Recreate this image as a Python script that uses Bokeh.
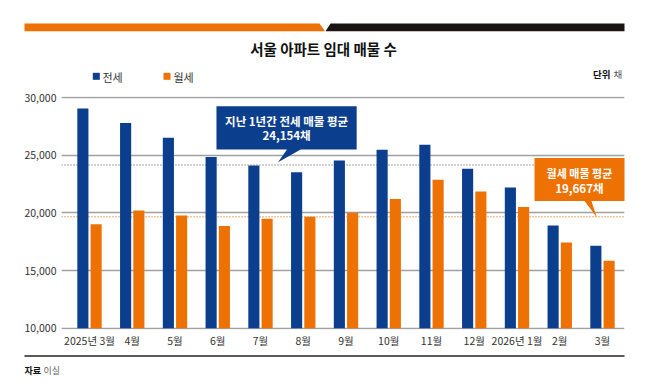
from bokeh.plotting import figure
from bokeh.models import Range1d, FixedTicker, NumeralTickFormatter, Span
from bokeh.core.properties import value
from bokeh.embed import file_html
from bokeh.resources import INLINE

# ---- data ----
months = ["2025년 3월", "4월", "5월", "6월", "7월", "8월", "9월", "10월", "11월",
          "12월", "2026년 1월", "2월", "3월"]
jeonse = [29050, 27800, 26500, 24850, 24100, 23530, 24540, 25470, 25900,
          23820, 22200, 18900, 17150]
wolse = [19020, 20210, 19770, 18850, 19490, 19660, 20000, 21190, 22860,
         21850, 20500, 17430, 15850]
jeonse_avg = 24154
wolse_avg = 19667
y_ticks = [10000, 15000, 20000, 25000, 30000]
series_names = ["전세", "월세"]

FONT_NAME = "Noto Sans CJK KR"
FONT = value(FONT_NAME)
BLUE = "#0c3e8e"
ORANGE = "#ee7203"
DARK = "#1c1412"
TXT = "#333333"

n = len(months)
idx = list(range(n))

p = figure(width=649, height=379, x_range=Range1d(-0.655, 12.515),
           y_range=Range1d(9887, 30087), output_backend="svg", toolbar_location=None,
           min_border_left=61, min_border_right=25, min_border_top=96, min_border_bottom=50)
p.outline_line_color = None
p.xgrid.grid_line_color = None
p.ygrid.ticker = FixedTicker(ticks=y_ticks)
p.ygrid.grid_line_color = "#a0a0a0"
p.ygrid.grid_line_width = 1.3

# page-pixel coordinate system for header / footer decorations
p.extra_x_ranges = {"px": Range1d(62, 625)}
p.extra_y_ranges = {"py": Range1d(330, 97)}
PX = dict(x_range_name="px", y_range_name="py", level="overlay")

for ax in (p.xaxis, p.yaxis):
    ax.axis_line_color = None
    ax.major_tick_line_color = None
    ax.minor_tick_line_color = None
    ax.major_tick_out = 0
    ax.major_tick_in = 0
    ax.minor_tick_out = 0
    ax.minor_tick_in = 0
    ax.major_label_text_font = FONT_NAME
    ax.major_label_text_font_size = "10.5px"
    ax.major_label_text_color = TXT

p.yaxis.ticker = FixedTicker(ticks=y_ticks)
p.yaxis.formatter = NumeralTickFormatter(format="0,0")
p.yaxis.major_label_standoff = 5

p.xaxis.ticker = FixedTicker(ticks=idx)
p.xaxis.major_label_overrides = {i: m for i, m in enumerate(months)}
p.xaxis.major_label_standoff = 3

p.add_layout(Span(location=jeonse_avg, dimension="width", line_color="#8a8a8a",
                  line_width=1.4, line_dash="1 2", level="underlay"))
p.add_layout(Span(location=wolse_avg, dimension="width", line_color="#e98a35",
                  line_width=1.4, line_dash="1 2", level="underlay"))

p.vbar(x=[i - 0.155 for i in idx], top=jeonse, bottom=10000, width=0.26,
       fill_color=BLUE, line_color=None)
p.vbar(x=[i + 0.155 for i in idx], top=wolse, bottom=10000, width=0.26,
       fill_color=ORANGE, line_color=None)

# callouts
p.patch(x=[2.97, 6.25, 6.25, 4.94, 4.41, 4.62, 2.97],
        y=[29246, 29246, 25494, 25494, 24393, 25494, 25494],
        fill_color=BLUE, line_color=None)
p.text(x=[4.61], y=[27946], text=["지난 1년간 전세 매물 평균"], text_align="center",
       text_baseline="middle", text_font=FONT, text_font_size="11.5px",
       text_font_style="bold", text_color="white")
p.text(x=[4.61], y=[26707], text=[f"{jeonse_avg:,}채"], text_align="center",
       text_baseline="middle", text_font=FONT, text_font_size="11.5px",
       text_font_style="bold", text_color="white")

p.patch(x=[10.41, 12.6, 12.6, 11.74, 11.87, 11.58, 10.41],
        y=[24757, 24757, 21031, 21031, 19601, 21031, 21031],
        fill_color=ORANGE, line_color=None)
p.text(x=[11.46], y=[23414], text=["월세 매물 평균"], text_align="center",
       text_baseline="middle", text_font=FONT, text_font_size="11px",
       text_font_style="bold", text_color="white")
p.text(x=[11.46], y=[22140], text=[f"{wolse_avg:,}채"], text_align="center",
       text_baseline="middle", text_font=FONT, text_font_size="11.5px",
       text_font_style="bold", text_color="white")

# ---- header (page pixel coords) ----
p.patch(x=[25, 320, 325.5, 25], y=[24, 24, 31.7, 31.7], fill_color=ORANGE,
        line_color=None, **PX)
p.patch(x=[331, 625, 625, 326], y=[24, 24, 31.7, 31.7], fill_color=DARK,
        line_color=None, **PX)
p.text(x=[324], y=[49], text=["서울 아파트 임대 매물 수"], text_align="center",
       text_baseline="middle", text_font=FONT, text_font_size="14.5px",
       text_font_style="bold", text_color="#111111", **PX)
# legend swatches
p.patch(x=[93.3, 100.3, 100.3, 93.3], y=[73.3, 73.3, 80.3, 80.3],
        fill_color=BLUE, line_color=None, **PX)
p.patch(x=[164, 171, 171, 164], y=[73.3, 73.3, 80.3, 80.3],
        fill_color=ORANGE, line_color=None, **PX)
p.text(x=[103, 174], y=[77, 77], text=series_names, text_align="left",
       text_baseline="middle", text_font=FONT, text_font_size="11px",
       text_color=TXT, **PX)
p.text(x=[611], y=[74.5], text=["단위"], text_align="right", text_baseline="middle",
       text_font=FONT, text_font_size="9.5px", text_font_style="bold",
       text_color="#111111", **PX)
p.text(x=[614], y=[74.5], text=["채"], text_align="left", text_baseline="middle",
       text_font=FONT, text_font_size="9.5px", text_color="#555555", **PX)

# ---- footer ----
p.line(x=[25, 625], y=[356.5, 356.5], line_color="#222222", line_width=1.5, **PX)
p.text(x=[25], y=[371], text=["자료"], text_align="left", text_baseline="middle",
       text_font=FONT, text_font_size="9px", text_font_style="bold",
       text_color="#111111", **PX)
p.text(x=[44], y=[371], text=["이실"], text_align="left", text_baseline="middle",
       text_font=FONT, text_font_size="9px", text_color="#666666", **PX)

open("out.html", "w").write(file_html(p, INLINE))
